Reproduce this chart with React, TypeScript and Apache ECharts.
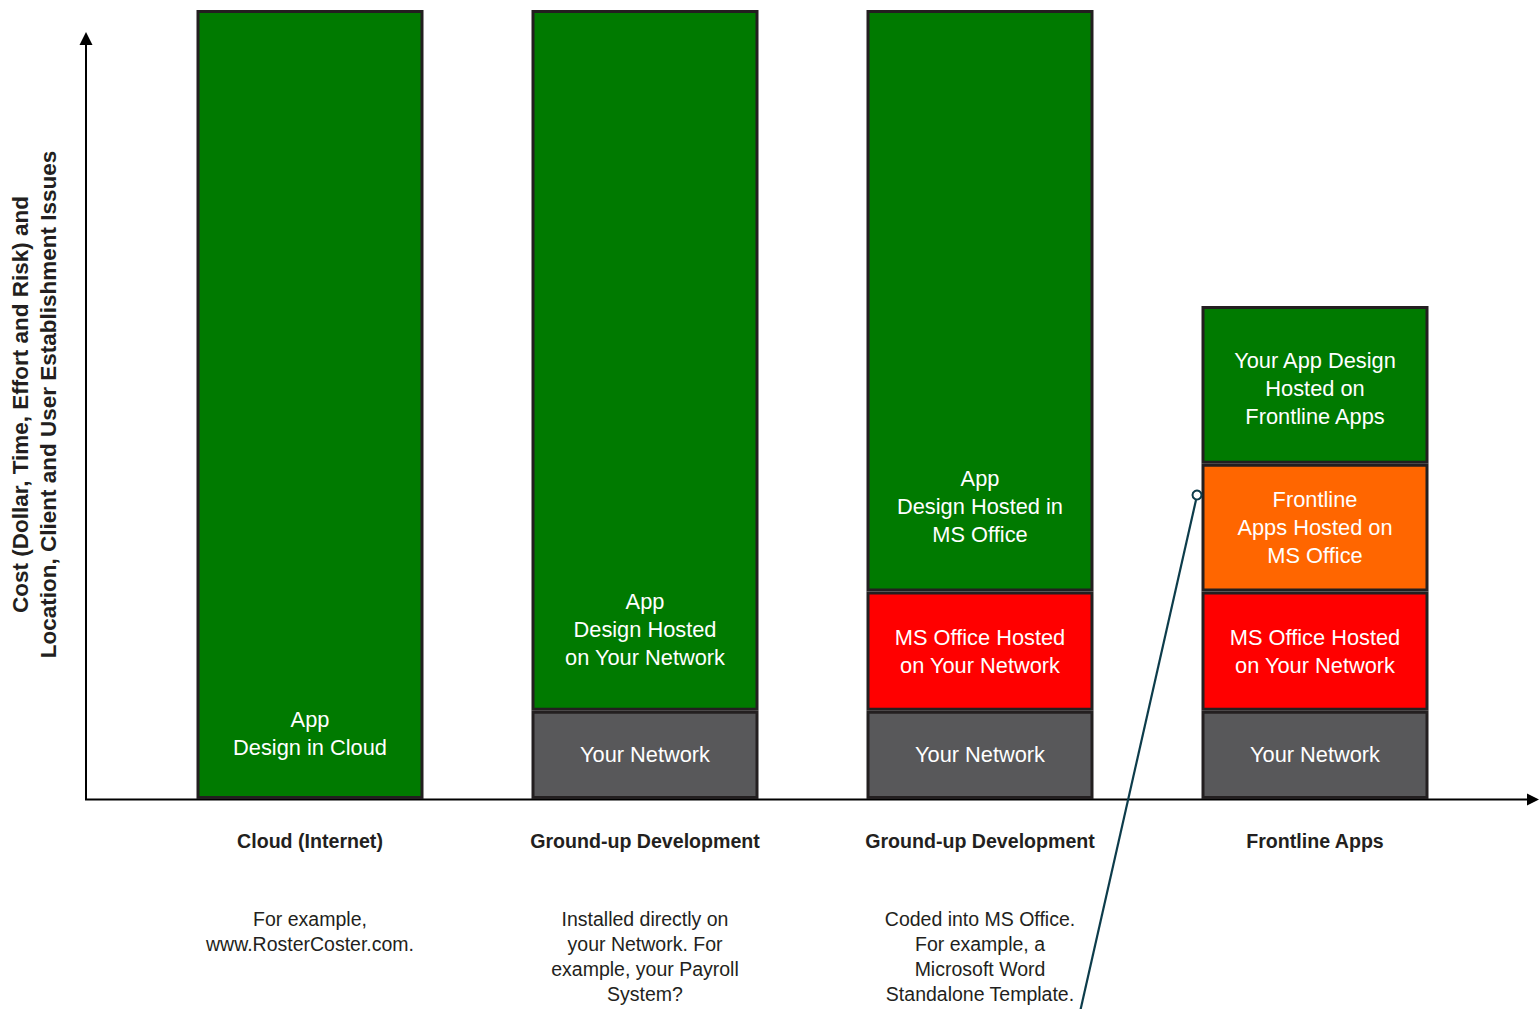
import React, { useEffect, useRef } from "react";
import * as echarts from "echarts";

const categories = ["Cloud (Internet)", "Ground-up Development", "Ground-up Development", "Frontline Apps"];
const descriptions = [
  "For example,\nwww.RosterCoster.com.",
  "Installed directly on\nyour Network. For\nexample, your Payroll\nSystem?",
  "Coded into MS Office.\nFor example, a\nMicrosoft Word\nStandalone Template.",
  "",
];
const yAxisTitle = "Cost (Dollar, Time, Effort and Risk) and\nLocation, Client and User Establishment Issues";

// stacked layers (bottom to top); "-" = no segment
const networkValues = ["-", 11.2, 11.2, 11.2];
const msOfficeValues = ["-", "-", 15.1, 15.1];
const frontlineValues = ["-", "-", "-", 16.2];
const appDesignValues = [100, 88.8, 73.7, 20];

const networkLabels = ["", "Your Network", "Your Network", "Your Network"];
const msOfficeLabels = ["", "", "MS Office Hosted\non Your Network", "MS Office Hosted\non Your Network"];
const frontlineLabels = ["", "", "", "Frontline\nApps Hosted on\nMS Office"];
const appDesignLabels = [
  "App\nDesign in Cloud",
  "App\nDesign Hosted\non Your Network",
  "App\nDesign Hosted in\nMS Office",
  "Your App Design\nHosted on\nFrontline Apps",
];

// label distance from the bottom of the top segment (style)
const appLabelDistance = [38, 39, 43, 33];

const FONT = "'Liberation Sans', Arial, sans-serif";
const DARK = "#231f20";
const TEAL = "#0d3c4b";

export default function App() {
  const ref = useRef<HTMLDivElement>(null);

  useEffect(() => {
    if (!ref.current) return;
    const chart = echarts.init(ref.current, null, { renderer: "svg" });

    const barBase = {
      type: "bar",
      stack: "total",
      barWidth: 227,
      itemStyle: { borderColor: DARK, borderWidth: 3 },
      label: {
        show: true,
        color: "#ffffff",
        fontFamily: FONT,
        fontSize: 21.8,
        lineHeight: 28,
        position: "inside",
      },
    };

    const mk = (vals: any[]) => vals.map((v) => ({ value: v }));

    const option: any = {
      animation: false,
      backgroundColor: "#ffffff",
      grid: {
        left: 142.5,
        top: 10,
        width: 1340,
        height: 789,
        containLabel: false,
        outerBoundsMode: "none",
      },
      xAxis: [
        {
          type: "category",
          data: categories,
          axisLine: { show: false },
          axisTick: { show: false },
          axisLabel: {
            interval: 0,
            margin: 31,
            fontFamily: FONT,
            fontWeight: "bold",
            fontSize: 19.6,
            lineHeight: 22,
            color: DARK,
          },
        },
        {
          type: "category",
          position: "bottom",
          offset: 0,
          data: descriptions,
          axisLine: { show: false },
          axisTick: { show: false },
          axisLabel: {
            interval: 0,
            margin: 107,
            fontFamily: FONT,
            fontSize: 19.5,
            lineHeight: 25,
            color: DARK,
          },
        },
      ],
      yAxis: {
        type: "value",
        min: 0,
        max: 100,
        axisLine: { show: false },
        axisTick: { show: false },
        axisLabel: { show: false },
        splitLine: { show: false },
        name: yAxisTitle,
        nameLocation: "middle",
        nameRotate: 90,
        nameGap: 80.5,
        nameTextStyle: {
          fontFamily: FONT,
          fontWeight: "bold",
          fontSize: 22.5,
          lineHeight: 28,
          color: DARK,
        },
      },
      series: [
        {
          ...barBase,
          name: "Your Network",
          itemStyle: { ...barBase.itemStyle, color: "#58585a" },
          label: { ...barBase.label, formatter: (p: any) => networkLabels[p.dataIndex] },
          data: mk(networkValues),
        },
        {
          ...barBase,
          name: "MS Office",
          itemStyle: { ...barBase.itemStyle, color: "#ff0000" },
          label: { ...barBase.label, formatter: (p: any) => msOfficeLabels[p.dataIndex] },
          data: mk(msOfficeValues),
        },
        {
          ...barBase,
          name: "Frontline Apps",
          itemStyle: { ...barBase.itemStyle, color: "#ff6600" },
          label: { ...barBase.label, formatter: (p: any) => frontlineLabels[p.dataIndex] },
          data: mk(frontlineValues),
        },
        {
          ...barBase,
          name: "App Design",
          itemStyle: { ...barBase.itemStyle, color: "#007a00" },
          label: { ...barBase.label, formatter: (p: any) => appDesignLabels[p.dataIndex] },
          data: appDesignValues.map((v, i) => ({
            value: v,
            label: { position: "insideBottom", distance: appLabelDistance[i] },
          })),
        },
      ],
      graphic: [
        // y axis with arrow
        { type: "line", shape: { x1: 86, y1: 800, x2: 86, y2: 42 }, style: { stroke: "#000", lineWidth: 2 } },
        { type: "polygon", shape: { points: [[79.5, 45], [86, 32], [92.5, 45]] }, style: { fill: "#000" } },
        // x axis with arrow
        { type: "line", shape: { x1: 85, y1: 799.5, x2: 1530, y2: 799.5 }, style: { stroke: "#000", lineWidth: 2 } },
        { type: "polygon", shape: { points: [[1527, 793.5], [1539, 799.5], [1527, 805.5]] }, style: { fill: "#000" } },
        // connector line
        {
          type: "line",
          z: 100,
          shape: { x1: 1196, y1: 500, x2: 1080, y2: 1012 },
          style: { stroke: TEAL, lineWidth: 2.2 },
        },
        {
          type: "circle",
          z: 101,
          shape: { cx: 1197, cy: 495, r: 4.5 },
          style: { fill: "#ffffff", stroke: TEAL, lineWidth: 2 },
        },
      ],
    };

    chart.setOption(option);
    return () => chart.dispose();
  }, []);

  return (
    <div
      ref={ref}
      style={{ position: "absolute", left: 0, top: 0, width: 1539, height: 1009 }}
    />
  );
}
